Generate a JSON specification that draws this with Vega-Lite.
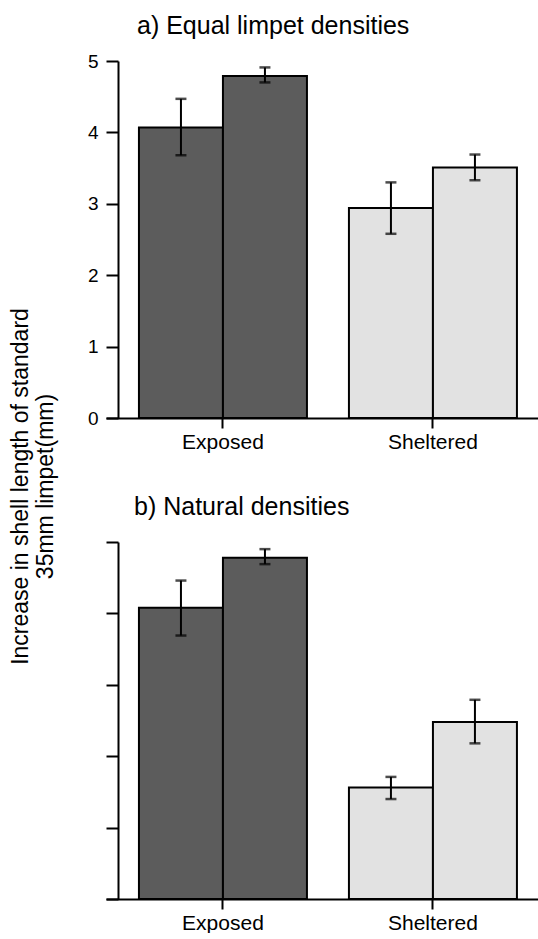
{
  "$schema": "https://vega.github.io/schema/vega-lite/v6.json",
  "padding": {"left": 9, "top": 14, "right": 0, "bottom": 0},
  "background": "white",
  "config": {
    "view": {"stroke": null},
    "font": "Liberation Sans",
    "axis": {"domainColor": "black", "domainWidth": 2, "tickColor": "black", "tickWidth": 2, "labelColor": "black", "grid": false, "titleColor": "black"},
    "title": {"fontWeight": "normal", "color": "black"}
  },
  "datasets": {
    "a": [
      {"site": "Exposed", "treatment": "1", "mean": 4.07, "lo": 3.68, "hi": 4.47},
      {"site": "Exposed", "treatment": "2", "mean": 4.79, "lo": 4.70, "hi": 4.91},
      {"site": "Sheltered", "treatment": "1", "mean": 2.94, "lo": 2.58, "hi": 3.30},
      {"site": "Sheltered", "treatment": "2", "mean": 3.51, "lo": 3.33, "hi": 3.69}
    ],
    "b": [
      {"site": "Exposed", "treatment": "1", "mean": 4.08, "lo": 3.69, "hi": 4.46},
      {"site": "Exposed", "treatment": "2", "mean": 4.78, "lo": 4.69, "hi": 4.90},
      {"site": "Sheltered", "treatment": "1", "mean": 1.56, "lo": 1.40, "hi": 1.71},
      {"site": "Sheltered", "treatment": "2", "mean": 2.48, "lo": 2.18, "hi": 2.79}
    ]
  },
  "bounds": "flush",
  "spacing": 124,
  "vconcat": [
    {
      "width": 432,
      "height": 357,
      "title": {"text": "a) Equal limpet densities", "anchor": "start", "frame": "group", "dx": 31, "fontSize": 25, "offset": 13},
      "data": {"name": "a"},
      "encoding": {
        "x": {"field": "site", "type": "nominal", "sort": ["Exposed", "Sheltered"],
          "scale": {"paddingInner": 0.2, "paddingOuter": 0.1286, "align": 0.61},
          "axis": {"title": null, "labelAngle": 0, "labelFontSize": 21, "tickSize": 10, "labelPadding": 3}},
        "xOffset": {"field": "treatment", "type": "nominal"}
      },
      "layer": [
        {
          "mark": {"type": "bar", "stroke": "black", "strokeWidth": 2},
          "encoding": {
            "y": {"field": "mean", "type": "quantitative", "scale": {"domain": [0, 5]},
              "axis": {"values": [0, 1, 2, 3, 4, 5], "format": "d", "tickSize": 12, "offset": -12, "labelFontSize": 19, "labelPadding": 8,
                "title": ["Increase in shell length of standard", "35mm limpet(mm)"],
                "titleX": -109, "titleY": 425, "titleAngle": -90, "titleBaseline": "top", "titleAlign": "center",
                "titleFontSize": 23, "titleFontWeight": "normal", "titleLineHeight": 25}},
            "color": {"field": "site", "type": "nominal", "scale": {"domain": ["Exposed", "Sheltered"], "range": ["#5c5c5c", "#e2e2e2"]}, "legend": null}
          }
        },
        {
          "mark": {"type": "rule", "strokeWidth": 2, "color": "black"},
          "encoding": {"y": {"field": "lo", "type": "quantitative"}, "y2": {"field": "hi"}}
        },
        {
          "mark": {"type": "tick", "size": 11, "thickness": 2.5, "color": "black", "orient": "horizontal"},
          "encoding": {"y": {"field": "lo", "type": "quantitative"}}
        },
        {
          "mark": {"type": "tick", "size": 11, "thickness": 2.5, "color": "black", "orient": "horizontal"},
          "encoding": {"y": {"field": "hi", "type": "quantitative"}}
        }
      ]
    },
    {
      "width": 432,
      "height": 357,
      "title": {"text": "b) Natural densities", "anchor": "start", "frame": "group", "dx": 28, "fontSize": 25, "offset": 21},
      "data": {"name": "b"},
      "encoding": {
        "x": {"field": "site", "type": "nominal", "sort": ["Exposed", "Sheltered"],
          "scale": {"paddingInner": 0.2, "paddingOuter": 0.1286, "align": 0.61},
          "axis": {"title": null, "labelAngle": 0, "labelFontSize": 21, "tickSize": 10, "labelPadding": 3}},
        "xOffset": {"field": "treatment", "type": "nominal"}
      },
      "layer": [
        {
          "mark": {"type": "bar", "stroke": "black", "strokeWidth": 2},
          "encoding": {
            "y": {"field": "mean", "type": "quantitative", "scale": {"domain": [0, 5]},
              "axis": {"values": [0, 1, 2, 3, 4, 5], "tickSize": 12, "offset": -12, "labels": false, "title": null}},
            "color": {"field": "site", "type": "nominal", "scale": {"domain": ["Exposed", "Sheltered"], "range": ["#5c5c5c", "#e2e2e2"]}, "legend": null}
          }
        },
        {
          "mark": {"type": "rule", "strokeWidth": 2, "color": "black"},
          "encoding": {"y": {"field": "lo", "type": "quantitative"}, "y2": {"field": "hi"}}
        },
        {
          "mark": {"type": "tick", "size": 11, "thickness": 2.5, "color": "black", "orient": "horizontal"},
          "encoding": {"y": {"field": "lo", "type": "quantitative"}}
        },
        {
          "mark": {"type": "tick", "size": 11, "thickness": 2.5, "color": "black", "orient": "horizontal"},
          "encoding": {"y": {"field": "hi", "type": "quantitative"}}
        }
      ]
    }
  ]
}
